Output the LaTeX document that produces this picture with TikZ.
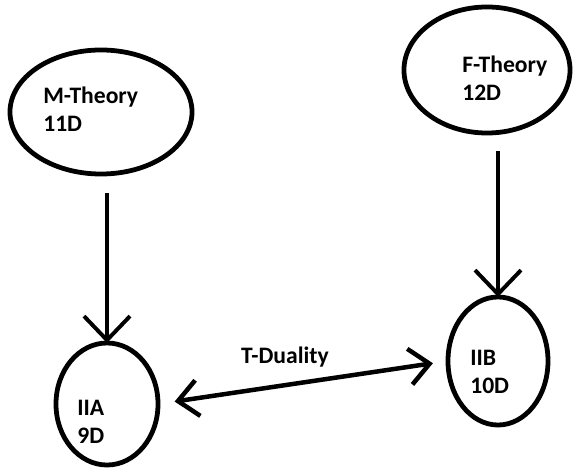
\documentclass[tikz,border=0pt]{standalone}
\usepackage{fontspec}
\setmainfont{Carlito}
\usepackage{tikz}
\usetikzlibrary{shapes.geometric, arrows.meta, positioning}

\begin{document}
\begin{tikzpicture}[
  x=0.025cm, y=-0.025cm,
  every node/.style={font=\bfseries\fontsize{16.8}{20}\selectfont},
  theory/.style={ellipse, draw=black, line width=3.4pt, inner sep=0pt, outer sep=0pt},
  txt/.style={anchor=west, align=left, inner sep=0pt},
  arr/.style={-{Straight Barb[length=0.6cm, width=1.15cm]}, line width=2.8pt},
  dual/.style={{Straight Barb[length=0.5cm, width=0.9cm]}-{Straight Barb[length=0.5cm, width=0.9cm]}, line width=3.2pt}
]
\useasboundingbox (0,0) rectangle (586,472);

\node[theory, minimum width=4.55cm, minimum height=3.1cm]  (mth) at (101,112) {};
\node[theory, minimum width=4.15cm, minimum height=3.15cm] (fth) at (487,70)  {};
\node[theory, minimum width=2.55cm, minimum height=3.05cm] (iia) at (107,404) {};
\node[theory, minimum width=2.5cm,  minimum height=3.2cm]  (iib) at (498,361) {};

\node[txt] (mtxt) at (43,109)  {M-Theory\\11D};
\node[txt] (ftxt) at (462,78)  {F-Theory\\12D};
\node[txt] (atxt) at (77,422)  {IIA\\9D};
\node[txt] (btxt) at (470,372) {IIB\\10D};
\node (tdual) at (285,357) {T-Duality};

\draw[arr, shorten <=0.48cm] (mth.south -| iia.north) -- (iia.north);
\draw[arr, shorten <=0.45cm] (fth.south -| iib.north) -- (iib.north);
\draw[dual, shorten <=0.42cm, shorten >=0.38cm] (iia.east) -- (iib.west);

\end{tikzpicture}
\end{document}
